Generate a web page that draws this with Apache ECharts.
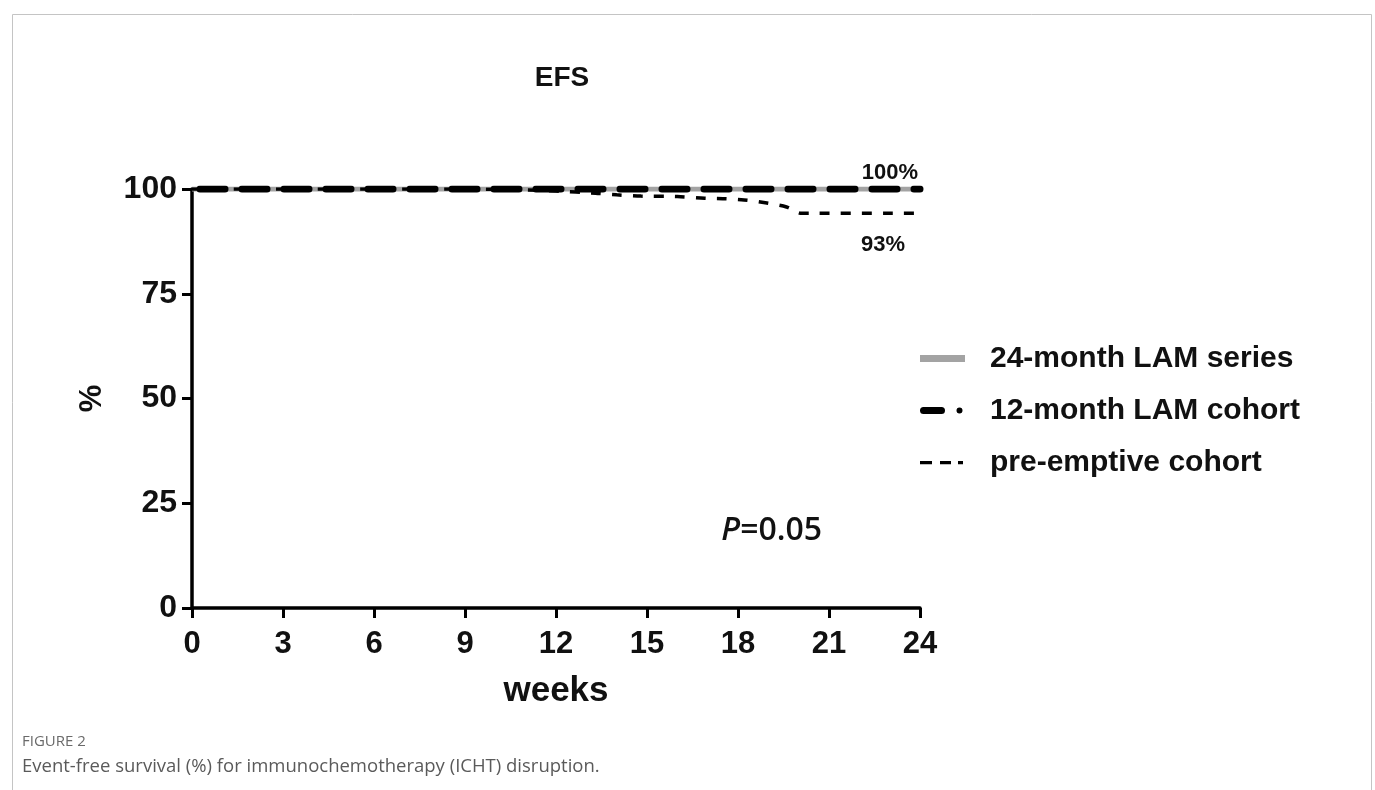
<!DOCTYPE html>
<html>
<head>
<meta charset="utf-8">
<script src="https://cdn.jsdelivr.net/npm/echarts@6/dist/echarts.min.js"></script>
<style>
html,body{margin:0;padding:0;background:#fff;}
#chart{width:1375px;height:790px;}
</style>
</head>
<body>
<div id="chart"></div>
<script>
// ---- data ----
var seriesNames = ['24-month LAM series', '12-month LAM cohort', 'pre-emptive cohort'];
var lam24 = [[0, 100], [24, 100]];
var lam12 = [[0, 100], [24, 100]];
var preemptive = [[0, 100], [9, 100], [11, 99.8], [12, 99.5], [13.3, 99.0], [14, 98.6], [14.8, 98.3], [16, 98.2], [16.9, 97.8], [17.5, 97.7], [18.2, 97.4], [18.9, 96.7], [19.6, 95.7], [20.1, 94.2], [24, 94.2]];
var xTicks = [0, 3, 6, 9, 12, 15, 18, 21, 24];
var yTicks = [0, 25, 50, 75, 100];
var annotations = [
  { text: '100%', x: 24, y: 100 },
  { text: '93%', x: 24, y: 94.2 }
];
var pText = 'P=0.05';

var chart = echarts.init(document.getElementById('chart'), null, { renderer: 'canvas' });
var FONT = '"Liberation Sans", Arial, sans-serif';

// legend icon shapes (45 x 7 box; degenerate corner points keep the box)
var iconSolid = 'path://M0,0H45V7H0Z';
var iconThick = 'path://M3.5,0H21.5A3.5,3.5 0 0 1 21.5,7H3.5A3.5,3.5 0 0 1 3.5,0Z M36.5,3.5A3,3 0 1 0 42.5,3.5A3,3 0 1 0 36.5,3.5Z M0,0L0,0Z M45,7L45,7Z';
var iconThin = 'path://M0,2H12V5.2H0Z M20,2H31V5.2H20Z M38,2H43V5.2H38Z M0,0L0,0Z M45,7L45,7Z';

var option = {
  backgroundColor: '#ffffff',
  animation: false,
  title: {
    text: 'EFS',
    left: 557, top: 59,
    textAlign: 'center',
    textStyle: { fontFamily: FONT, fontWeight: 'bold', fontSize: 28, color: '#111' }
  },
  grid: { left: 192, right: 455, top: 189, bottom: 182, containLabel: false },
  legend: {
    orient: 'vertical',
    left: 920, top: 343,
    padding: 0,
    itemWidth: 45, itemHeight: 7,
    itemGap: 21,
    symbolKeepAspect: false,
    data: [
      { name: seriesNames[0], icon: iconSolid },
      { name: seriesNames[1], icon: iconThick },
      { name: seriesNames[2], icon: iconThin }
    ],
    textStyle: { fontFamily: FONT, fontWeight: 'bold', fontSize: 30, color: '#111', lineHeight: 31, padding: [0, 0, 0, 20] }
  },
  xAxis: {
    type: 'value', min: 0, max: 24, interval: 3,
    name: 'weeks', nameLocation: 'middle', nameGap: 66,
    nameTextStyle: { fontFamily: FONT, fontWeight: 'bold', fontSize: 35, color: '#111' },
    axisLine: { show: true, onZero: false, lineStyle: { color: '#000', width: 3.5 } },
    axisTick: { show: true, length: 10, lineStyle: { color: '#000', width: 3 } },
    axisLabel: { fontFamily: FONT, fontWeight: 'bold', fontSize: 31, color: '#111', margin: 21,
      formatter: function (v) { return xTicks.indexOf(v) >= 0 ? String(v) : ''; } },
    splitLine: { show: false }
  },
  yAxis: {
    type: 'value', min: 0, max: 100, interval: 25,
    name: '%', nameLocation: 'middle', nameGap: 84, nameRotate: 90,
    nameTextStyle: { fontFamily: FONT, fontWeight: 'bold', fontSize: 31, color: '#111' },
    axisLine: { show: true, onZero: false, lineStyle: { color: '#000', width: 3.5 } },
    axisTick: { show: true, length: 10, lineStyle: { color: '#000', width: 3 } },
    axisLabel: { fontFamily: FONT, fontWeight: 'bold', fontSize: 32, color: '#111', margin: 15,
      formatter: function (v) { return yTicks.indexOf(v) >= 0 ? String(v) : ''; } },
    splitLine: { show: false }
  },
  series: [
    {
      name: seriesNames[0], type: 'line', data: lam24, symbol: 'none', z: 2,
      lineStyle: { color: '#a3a3a3', width: 5, type: 'solid' },
      itemStyle: { color: '#a3a3a3' }
    },
    {
      name: seriesNames[1], type: 'line', data: lam12, symbol: 'none', z: 3,
      lineStyle: { color: '#000', width: 7, type: [25, 17], dashOffset: -8, cap: 'round' },
      itemStyle: { color: '#000' }
    },
    {
      name: seriesNames[2], type: 'line', data: preemptive, symbol: 'none', z: 4, smooth: 0.3,
      lineStyle: { color: '#000', width: 3.5, type: [10, 11] },
      itemStyle: { color: '#000' }
    }
  ]
};
chart.setOption(option);

// annotations placed through the chart's own coordinate conversion
var g = [];
g.push({ type: 'rect', shape: { x: 12.5, y: 14.5, width: 1359, height: 800 }, style: { fill: 'none', stroke: '#c4c4c4', lineWidth: 1 }, silent: true, z: 0 });
var p100 = chart.convertToPixel({ gridIndex: 0 }, [annotations[0].x, annotations[0].y]);
var p93 = chart.convertToPixel({ gridIndex: 0 }, [annotations[1].x, annotations[1].y]);
g.push({ type: 'text', x: p100[0] - 2, y: p100[1] - 5, style: { text: annotations[0].text, fontFamily: FONT, fontWeight: 'bold', fontSize: 22, fill: '#111', align: 'right', verticalAlign: 'bottom' } });
g.push({ type: 'text', x: p93[0] - 15, y: p93[1] + 21, style: { text: annotations[1].text, fontFamily: FONT, fontWeight: 'bold', fontSize: 22, fill: '#111', align: 'right', verticalAlign: 'top' } });
var pp = chart.convertToPixel({ gridIndex: 0 }, [17.45, 18.4]);
g.push({ type: 'text', x: pp[0], y: pp[1], style: {
  text: '{i|P}{n|' + pText.slice(1) + '}',
  rich: {
    i: { fontFamily: '"Open Sans", sans-serif', fontStyle: 'italic', fontWeight: 600, fontSize: 32, fill: '#111' },
    n: { fontFamily: '"Open Sans", sans-serif', fontWeight: 600, fontSize: 32, fill: '#111' }
  },
  verticalAlign: 'middle'
} });
g.push({ type: 'text', x: 22, y: 734, style: { text: 'FIGURE 2', fontFamily: '"Open Sans", sans-serif', fontSize: 15, fill: '#6a6a6a' } });
g.push({ type: 'text', x: 22, y: 757, style: { text: 'Event-free survival (%) for immunochemotherapy (ICHT) disruption.', fontFamily: '"Open Sans", sans-serif', fontSize: 18.5, fill: '#5a5a5a' } });
chart.setOption({ graphic: g });
</script>
</body>
</html>
